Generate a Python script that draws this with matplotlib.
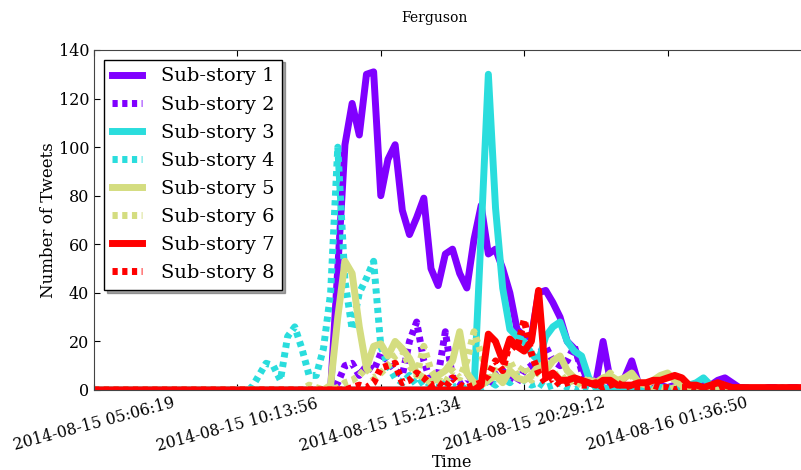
import numpy as np
import pandas as pd
import matplotlib
matplotlib.use("Agg")
import matplotlib.pyplot as plt
from matplotlib import cm

plt.rcParams['font.family'] = ['DejaVu Serif']
plt.rcParams['xtick.direction'] = 'in'
plt.rcParams['ytick.direction'] = 'in'
plt.rcParams['xtick.top'] = True
plt.rcParams['ytick.right'] = True

start = pd.Timestamp('2014-08-15 05:06:19')
step_seconds = 922.875
n_points = 101

s1 = [0]*33 + [0, 50, 101, 118, 105, 130, 131, 80, 95, 101, 74, 64, 71, 79, 50, 43, 56, 58, 48, 42,
               62, 76, 56, 58, 50, 40, 25, 22, 22, 40, 41, 36, 30, 20, 17, 10, 3, 3, 20, 4,
               3, 5, 12, 2, 2, 1, 2, 1, 2, 1, 1, 2, 3, 2, 4, 5, 3, 1, 1, 0,
               0, 1, 1, 0, 1, 1, 0, 2]
s2 = [0]*34 + [3, 10, 11, 6, 10, 8, 15, 12, 8, 6, 20, 28, 12, 3, 6, 24, 5, 3, 5, 2,
               4, 2, 6, 8, 5, 3, 8, 10, 15, 18, 12, 10, 12, 18, 8, 3, 2, 1, 2, 1,
               0, 1, 0, 1, 0, 0, 1, 0, 0, 1, 0, 0, 0, 1, 0, 0, 0, 0, 0, 0,
               0, 0, 0, 0, 0, 0, 0]
s3 = [0]*54 + [65, 130, 75, 42, 25, 22, 20, 15, 12, 22, 26, 28, 20, 16, 14, 5, 1, 1, 0, 1,
               0, 1, 2, 1, 0, 1, 1, 0, 1, 2, 3, 5, 2, 1, 0, 0, 0, 1, 0, 0,
               0, 0, 1, 0, 0, 0, 0]
s4 = [0]*22 + [1, 6, 11, 10, 4, 22, 26, 17, 6, 6, 17, 40, 100, 45, 25, 40, 46, 53, 18, 10,
               5, 3, 6, 2, 4, 2, 1, 3, 1, 2, 0, 2, 1, 4, 2, 5, 3, 6, 4, 2,
               3, 1, 2, 3, 1, 0, 1, 0, 0, 1, 0, 0, 1, 0, 0, 0, 0, 1, 0, 0,
               0, 0, 0, 0, 0, 0, 0, 0, 0, 0, 0, 0, 0, 0, 0, 0, 0, 0, 0]
s5 = [0]*33 + [2, 30, 53, 48, 26, 9, 18, 19, 14, 20, 17, 13, 7, 5, 3, 6, 8, 12, 24, 7,
               3, 2, 4, 6, 3, 8, 5, 4, 6, 10, 8, 12, 14, 8, 5, 3, 4, 3, 5, 6,
               4, 5, 7, 3, 2, 4, 6, 7, 4, 2, 1, 1, 0, 0, 0, 0, 0, 0, 0, 0,
               0, 0, 0, 0, 0, 0, 0, 0]
s6 = [0]*30 + [2, 1, 0, 0, 1, 3, 4, 6, 9, 5, 7, 10, 14, 16, 10, 6, 18, 8, 4, 3,
               8, 5, 12, 24, 15, 5, 8, 4, 12, 6, 10, 4, 8, 12, 5, 7, 3, 4, 2, 5,
               3, 4, 7, 3, 5, 6, 2, 3, 1, 1, 0, 1, 0, 0, 0, 1, 0, 0, 0, 0,
               0, 0, 0, 0, 0, 0, 0, 0, 0, 0, 0]
s7 = [0]*54 + [2, 23, 20, 12, 21, 18, 16, 20, 41, 5, 7, 4, 4, 5, 4, 3, 2, 4, 4, 2,
               2, 2, 3, 3, 4, 4, 5, 6, 5, 2, 2, 1, 2, 3, 2, 1, 1, 1, 1, 1,
               1, 1, 1, 1, 1, 1, 1]
s8 = [0]*36 + [1, 2, 1, 3, 9, 10, 11, 3, 4, 7, 5, 2, 3, 1, 5, 2, 1, 2, 3, 6,
               12, 8, 20, 17, 29, 15, 7, 3, 5, 2, 3, 4, 2, 2, 3, 1, 2, 3, 1, 2,
               1, 1, 2, 1, 1, 0, 1, 1, 0, 1, 0, 0, 1, 0, 0, 0, 0, 0, 0, 0,
               0, 0, 0, 0, 0]

series = [s1, s2, s3, s4, s5, s6, s7, s8]
labels = ['Sub-story %d' % (k + 1) for k in range(8)]
tick_labels = ['2014-08-15 05:06:19', '2014-08-15 10:13:56', '2014-08-15 15:21:34',
               '2014-08-15 20:29:12', '2014-08-16 01:36:50']

times = start + pd.to_timedelta(np.arange(n_points) * step_seconds, unit='s')
end = times[-1]
tick_pos = pd.to_datetime(np.linspace(start.value, end.value, 6))[:5]

colors = cm.rainbow(np.linspace(0, 1, 4))

fig = plt.figure(figsize=(8.01, 4.70), dpi=100)
ax = fig.add_axes([94/801, 1 - 390/470, 717/801, 340/470])

for k, s in enumerate(series):
    assert len(s) == n_points, (k, len(s))
    c = colors[k // 2]
    if k % 2 == 0:
        ax.plot(times, s, color=c, lw=5, label=labels[k], solid_joinstyle='round')
    else:
        ax.plot(times, s, color=c, lw=5, linestyle=(0, (0.75, 0.65)), label=labels[k])

ax.set_xlim(start, end)
ax.set_ylim(0, 140)
ax.set_yticks(np.arange(0, 141, 20))
ax.set_xticks(tick_pos)
ax.set_xticklabels(tick_labels, rotation=15, ha='center', fontsize=11.3)
ax.tick_params(axis='y', labelsize=11.5)
ax.tick_params(length=4, width=0.8)
for sp in ax.spines.values():
    sp.set_color('#444444')
ax.set_xlabel('Time', fontsize=11.5, labelpad=0)
ax.set_ylabel('Number of Tweets', fontsize=12, labelpad=1)
fig.text(434/801, 1 - 18/470, 'Ferguson', ha='center', va='center', fontsize=10)

leg = ax.legend(loc='upper left', fontsize=14, fancybox=False, shadow=True,
                handlelength=1.55, handletextpad=1.0, labelspacing=0.52,
                borderaxespad=0.5, framealpha=1)
leg.get_frame().set_edgecolor('black')

fig.savefig('out.png', dpi=100)
